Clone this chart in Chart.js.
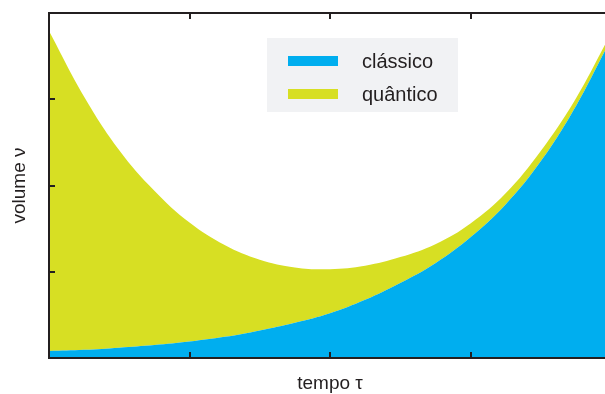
<!DOCTYPE html>
<html><head><meta charset="utf-8">
<script src="https://cdn.jsdelivr.net/npm/chart.js@4.4.1/dist/chart.umd.min.js"></script>
<style>html,body{margin:0;padding:0;overflow:hidden;background:#fff}
#wrap{position:relative;width:616px;height:394px}</style>
</head><body><div id="wrap"><canvas id="c"></canvas></div>
<script>
// tempo τ (x) values
const tau      = [0, 0.25, 0.5, 0.75, 1, 1.25, 1.5, 1.75, 2, 2.25, 2.5, 2.75, 3, 3.25, 3.5, 3.75, 3.96];
// volume ν, classical solution
const classico = [0.08, 0.095, 0.12, 0.15, 0.19, 0.245, 0.32, 0.41, 0.52, 0.675, 0.87, 1.10, 1.40, 1.78, 2.28, 2.92, 3.57];
// volume ν, quantum solution
const quantico = [3.79, 3.03, 2.41, 1.94, 1.57, 1.31, 1.14, 1.05, 1.03, 1.07, 1.17, 1.32, 1.56, 1.91, 2.40, 3.01, 3.64];
const seriesLabels = ['clássico', 'quântico'];
const xTicks = [0, 1, 2, 3, 4];
const yTicks = [0, 1, 2, 3, 4];
const xTitle = 'tempo τ';
const yTitle = 'volume ν';

const BLUE = '#00aeef', YELLOW = '#d7df23', INK = '#231f20';
const toPts = arr => tau.map((t, i) => ({x: t, y: arr[i]}));

const framePlugin = {
  id: 'frame',
  afterDatasetsDraw(chart) {
    const {ctx, chartArea: a, scales: {x, y}} = chart;
    ctx.save();
    ctx.strokeStyle = INK;
    ctx.lineWidth = 2;
    ctx.strokeRect(a.left, a.top, a.right - a.left, a.bottom - a.top);
    const L = 6;
    ctx.beginPath();
    x.ticks.forEach(t => {
      const px = Math.round(x.getPixelForValue(t.value));
      ctx.moveTo(px, a.bottom); ctx.lineTo(px, a.bottom - L);
      ctx.moveTo(px, a.top); ctx.lineTo(px, a.top + L);
    });
    y.ticks.forEach(t => {
      const py = Math.round(y.getPixelForValue(t.value));
      ctx.moveTo(a.left, py); ctx.lineTo(a.left + L, py);
      ctx.moveTo(a.right, py); ctx.lineTo(a.right - L, py);
    });
    ctx.stroke();
    ctx.restore();
  }
};

const legendPlugin = {
  id: 'boxLegend',
  afterDraw(chart) {
    const {ctx} = chart;
    ctx.save();
    ctx.fillStyle = '#f1f2f4';
    ctx.fillRect(267, 38, 191, 74);
    const rows = [{y: 61}, {y: 94}];
    chart.data.datasets.forEach((ds, i) => {
      ctx.fillStyle = ds.backgroundColor;
      ctx.fillRect(288, rows[i].y - 5, 50, 10);
      ctx.fillStyle = INK;
      ctx.font = '20px "Liberation Sans", Arial, sans-serif';
      ctx.textBaseline = 'middle';
      ctx.textAlign = 'left';
      ctx.fillText(ds.label, 362, rows[i].y + 1);
    });
    ctx.restore();
  }
};

new Chart(document.getElementById('c'), {
  type: 'line',
  data: {
    datasets: [
      {label: seriesLabels[0], data: toPts(classico), backgroundColor: BLUE, borderColor: BLUE,
       borderWidth: 0, pointRadius: 0, fill: 'origin', tension: 0.4},
      {label: seriesLabels[1], data: toPts(quantico), backgroundColor: YELLOW, borderColor: YELLOW,
       borderWidth: 0, pointRadius: 0, fill: '-1', tension: 0.4}
    ]
  },
  options: {
    responsive: true,
    maintainAspectRatio: false,
    animation: false,
    devicePixelRatio: 1,
    layout: {padding: {top: 13, right: 5, bottom: 0, left: 0}},
    plugins: {legend: {display: false}, tooltip: {enabled: false}},
    scales: {
      x: {
        type: 'linear', min: 0, max: 4,
        afterBuildTicks: s => { s.ticks = xTicks.map(v => ({value: v})); },
        afterFit: s => { s.height = 36; },
        ticks: {display: false},
        grid: {display: false},
        border: {display: false},
        title: {display: true, text: xTitle, color: INK,
                font: {family: '"Liberation Sans", Arial, sans-serif', size: 19, lineHeight: 1.05},
                padding: {top: 0, bottom: 0}}
      },
      y: {
        type: 'linear', min: 0, max: 4,
        afterBuildTicks: s => { s.ticks = yTicks.map(v => ({value: v})); },
        afterFit: s => { s.width = 49; },
        ticks: {display: false},
        grid: {display: false},
        border: {display: false},
        title: {display: true, text: yTitle, color: INK,
                font: {family: '"Liberation Sans", Arial, sans-serif', size: 19, lineHeight: 1.2},
                padding: {top: 8, bottom: 0}}
      }
    }
  },
  plugins: [framePlugin, legendPlugin]
});
</script>
</body></html>
